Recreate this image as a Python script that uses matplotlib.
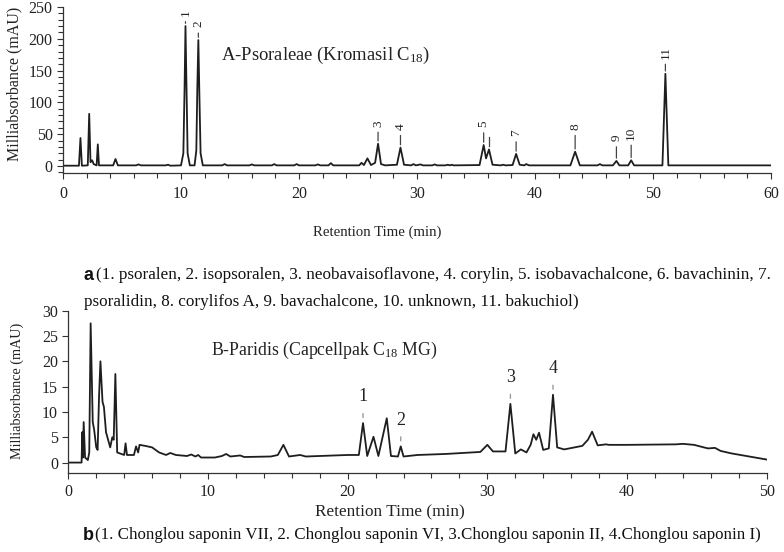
import matplotlib
matplotlib.use("Agg")
import matplotlib.pyplot as plt
from matplotlib.ticker import MultipleLocator

plt.rcParams['font.family'] = ['Liberation Serif', 'DejaVu Serif']
plt.rcParams['mathtext.fontset'] = 'custom'
plt.rcParams['mathtext.rm'] = 'Liberation Serif'
plt.rcParams['mathtext.it'] = 'Liberation Serif:italic'

# ---------------- Panel A data ----------------
time_a = [0, 1.35, 1.48, 1.6, 2.1, 2.22, 2.33, 2.47, 2.6, 2.85, 2.95, 3.05, 4.25, 4.45, 4.65,
          6.2, 6.4, 6.6, 8.7, 8.9, 9.1, 10.0, 10.2, 10.3, 10.38, 10.47, 10.56, 10.75,
          11.15, 11.3, 11.38, 11.47, 11.56, 11.66, 11.85, 13.5, 13.7, 13.9, 15.8, 16.0, 16.2,
          17.7, 17.9, 18.1, 19.6, 19.8, 20.0, 21.4, 21.6, 21.8, 22.5, 22.7, 22.9,
          25.1, 25.3, 25.5, 25.8, 26.1, 26.45, 26.7, 26.95, 27.3, 28.3, 28.6, 28.9,
          29.5, 29.7, 29.9, 30.3, 30.5, 31.3, 31.5, 31.7, 32.4, 32.6, 32.8, 32.95, 33.1,
          35.3, 35.65, 35.85, 36.1, 36.4, 37.1, 37.3, 37.5, 38.1, 38.4, 38.7, 39.1, 39.25, 39.5,
          43.0, 43.4, 43.8, 45.3, 45.5, 45.7, 46.6, 46.9, 47.15, 47.9, 48.15, 48.4,
          50.8, 51.05, 51.3, 60]
abs_a = [0.5, 0.5, 44, 0.5, 1, 82, 6, 9, 3, 1, 34, 1, 1, 11, 1,
         1, 2.5, 1, 1, 2, 0.5, 1, 20, 120, 220, 120, 20, 1,
         1, 25, 120, 198, 110, 20, 1, 1, 3, 1, 1, 2.5, 1,
         1, 3, 1, 1, 3, 1, 1, 2.5, 1, 1, 4.5, 1,
         1, 5, 1.5, 12, 1.5, 5, 35, 3, 1, 2, 29, 2,
         1, 3, 1, 2.5, 1, 1, 2.5, 1, 1, 2, 1, 2, 1,
         1.5, 33, 12, 26, 2, 1, 2, 1, 1.5, 19, 2, 1, 3, 1,
         1, 22.5, 1, 1, 3, 1, 1, 8, 1, 1, 9, 1,
         1, 145, 1, 1]

peak_labels_a = ["1", "2", "3", "4", "5", "", "7", "8", "9", "10", "11"]
peak_time_a = [10.38, 11.47, 26.7, 28.6, 35.65, 36.1, 38.4, 43.4, 46.9, 48.15, 51.05]
peak_height_a = [220, 198, 35, 29, 33, 26, 19, 22.5, 8, 9, 145]
label_y_a = [241, 223, 67, 62, 66, 45, 52, 62, 44, 52, 179]

# ---------------- Panel B data ----------------
time_b = [0, 0.95, 1.0, 1.05, 1.1, 1.2, 1.4, 1.5, 1.6, 1.75, 1.85, 2.0, 2.1, 2.2, 2.3,
          2.45, 2.55, 2.7, 2.9, 3.0, 3.15, 3.25, 3.37, 3.5, 4.0, 4.1, 4.2, 4.7, 4.85, 5.0,
          5.1, 5.5, 6.0, 6.5, 7.0, 7.3, 7.7, 8.5, 8.8, 9.1, 9.3, 9.5, 10.5, 11.0, 11.3,
          11.6, 12.3, 12.6, 14.5, 15.0, 15.4, 15.8, 16.6, 17.0, 20.0, 20.8, 21.1, 21.4,
          21.85, 22.2, 22.8, 23.1, 23.6, 23.8, 24.0, 25.0, 27.0, 29.5, 30.0, 30.4, 31.3,
          31.65, 32.0, 32.4, 32.8, 33.1, 33.3, 33.5, 33.7, 34.0, 34.4, 34.7, 35.0, 35.5,
          36.8, 37.2, 37.5, 37.9, 38.5, 38.7, 40.0, 43.5, 44.0, 44.8, 45.5, 45.8, 46.3,
          46.7, 47.5, 50.0]
abs_b = [0, 0, 6, 1, 8, 1, 0.5, 2, 27.5, 8, 6.5, 3, 2.5, 13, 20,
         12, 11, 6, 4, 3, 5, 4.5, 17.5, 2, 1.5, 3.8, 1.5, 1.5, 3.2, 2,
         3.5, 3.3, 3.0, 2.0, 1.5, 1.9, 1.5, 1.3, 1.6, 1.2, 1.5, 1.0, 1.0, 1.3, 1.7,
         1.2, 1.4, 1.1, 1.2, 1.5, 3.5, 1.2, 1.5, 1.2, 1.5, 1.5, 7.8, 1.3,
         5.1, 1.3, 8.75, 1.3, 1.2, 3.2, 1.2, 1.5, 1.7, 2.1, 3.5, 2.2, 2.2,
         11.6, 1.8, 2.6, 2.0, 3.5, 5.6, 4.5, 5.9, 2.5, 2.8, 13.4, 3.0, 2.6,
         3.3, 4.5, 6.1, 3.4, 3.6, 3.5, 3.5, 3.6, 3.7, 3.5, 3.0, 2.8, 2.9,
         2.3, 1.8, 0.6]

peak_labels_b = ["1", "2", "3", "4"]
peak_time_b = [21.1, 23.8, 31.65, 34.7]
peak_height_b = [7.8, 3.2, 11.6, 13.4]
label_y_b = [13.0, 8.4, 16.8, 18.6]

W, H = 784, 552
fig = plt.figure(figsize=(W / 100, H / 100), dpi=100)
line_col = '#1e1e1e'
axis_col = '#333333'


def px_axes(left, right, top, bottom):
    return fig.add_axes([left / W, 1 - bottom / H, (right - left) / W, (bottom - top) / H])


def style(ax, tick_fs, xpad):
    for s in ['top', 'right']:
        ax.spines[s].set_visible(False)
    for s in ['left', 'bottom']:
        ax.spines[s].set_color(axis_col)
        ax.spines[s].set_linewidth(0.9)
    ax.tick_params(which='both', direction='out', colors=axis_col, labelcolor='#222222',
                   labelsize=tick_fs, width=0.8)
    ax.tick_params(which='major', length=4.5, pad=3)
    ax.tick_params(axis='x', which='major', pad=xpad)
    ax.tick_params(which='minor', length=3.5)
    ax.set_facecolor('none')


# ---------- Panel A ----------
axA = px_axes(63, 771, 7, 173)
axA.plot(time_a, abs_a, color=line_col, lw=1.3, solid_joinstyle='round')
axA.set_xlim(0, 60)
axA.set_ylim(-11, 250)
axA.xaxis.set_major_locator(MultipleLocator(10))
axA.xaxis.set_minor_locator(MultipleLocator(2))
axA.yaxis.set_major_locator(MultipleLocator(50))
axA.yaxis.set_minor_locator(MultipleLocator(10))
style(axA, 11.5, 4.5)
for lab, t, h, ly in zip(peak_labels_a, peak_time_a, peak_height_a, label_y_a):
    if lab:
        axA.annotate(lab, xy=(t, h), xytext=(t, ly), rotation=90, ha='center', va='center',
                     fontsize=9.5, color='#222222',
                     arrowprops=dict(arrowstyle='-', color='#444444', lw=0.9,
                                     shrinkA=2, shrinkB=2))
    else:
        axA.plot([t, t], [ly, h + 6], color='#444444', lw=0.9)

# ---------- Panel B ----------
axB = px_axes(68.3, 766.7, 310.7, 472.7)
axB.plot(time_b, abs_b, color=line_col, lw=1.3, solid_joinstyle='round')
axB.set_xlim(0, 50)
axB.set_ylim(-2, 30)
axB.xaxis.set_major_locator(MultipleLocator(10))
axB.xaxis.set_minor_locator(MultipleLocator(2))
axB.yaxis.set_major_locator(MultipleLocator(5))
style(axB, 11.5, 3.5)
for lab, t, h, ly in zip(peak_labels_b, peak_time_b, peak_height_b, label_y_b):
    axB.annotate(lab, xy=(t, h), xytext=(t, ly), ha='center', va='center',
                 fontsize=13, color='#222222',
                 arrowprops=dict(arrowstyle='-', color='#9a9a9a', lw=1.0,
                                 shrinkA=4, shrinkB=4))


def ftext(x, y, s, **kw):
    fig.text(x / W, 1 - y / H, s, **kw)


ftext(326, 55, r'A-Psoraleae (Kromasil C$_{\mathrm{18}}$)', ha='center', va='center',
      fontsize=13.4, color='#222222')
ftext(324.5, 350, r'B-Paridis (Capcellpak C$_{\mathrm{18}}$ MG)', ha='center', va='center',
      fontsize=12.8, color='#222222')

ftext(14, 84, 'Milliabsorbance (mAU)', rotation=90, ha='center', va='center', fontsize=11.5,
      color='#222222')
ftext(17.5, 391, 'Milliabsorbance (mAU)', rotation=90, ha='center', va='center', fontsize=10.2,
      color='#222222')

ftext(377, 232.5, 'Retention Time (min)', ha='center', va='center', fontsize=10.6, color='#222222')
ftext(390, 512, 'Retention Time (min)', ha='center', va='center', fontsize=12.4, color='#222222')

cap_col = '#111111'
ftext(84, 275, 'a', ha='left', va='center', fontsize=13, fontweight='bold',
      family='Liberation Sans', color=cap_col)
ftext(96, 275, '(1. psoralen, 2. isopsoralen, 3. neobavaisoflavone, 4. corylin, '
      '5. isobavachalcone, 6. bavachinin, 7.', ha='left', va='center', fontsize=12.3, color=cap_col)
ftext(84, 302, 'psoralidin, 8. corylifos A, 9. bavachalcone, 10. unknown, 11. bakuchiol)',
      ha='left', va='center', fontsize=12.3, color=cap_col)
ftext(83, 535, 'b', ha='left', va='center', fontsize=13, fontweight='bold',
      family='Liberation Sans', color=cap_col)
ftext(95, 535, '(1. Chonglou saponin VII, 2. Chonglou saponin VI, 3.Chonglou saponin II, '
      '4.Chonglou saponin I)', ha='left', va='center', fontsize=12.2, color=cap_col)

fig.savefig('out.png', dpi=100)
